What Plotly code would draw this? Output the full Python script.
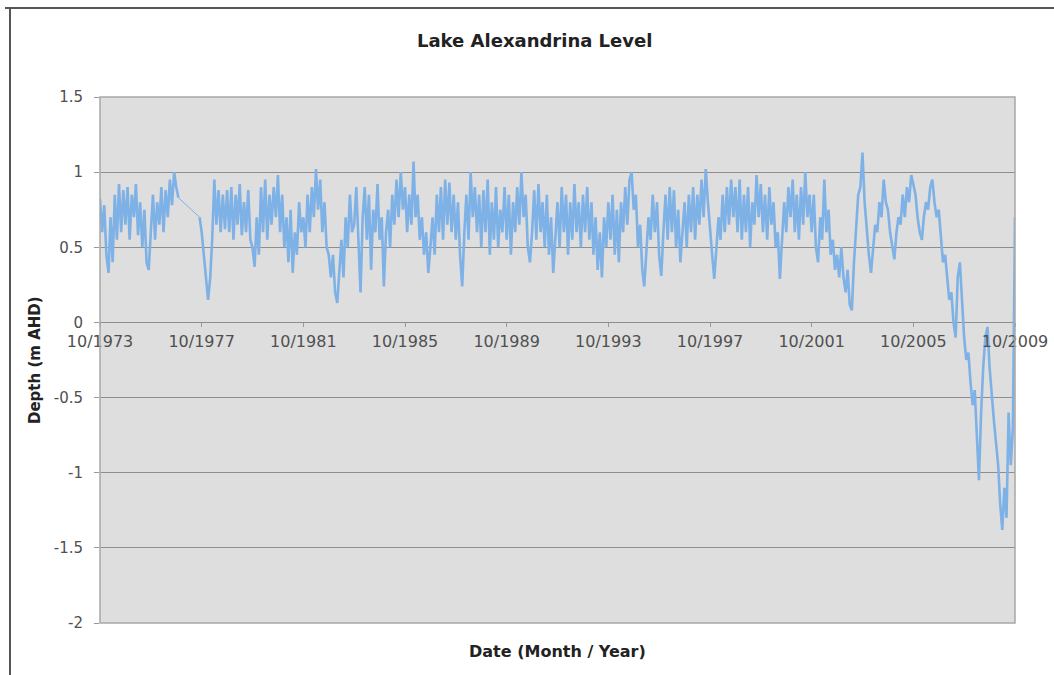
import pandas as pd
import plotly.graph_objects as go

# Monthly lake level readings (m AHD), Oct 1973 .. Oct 2009, one row per water year (Oct..Sep)
level_m = [
    0.82, 0.6, 0.78, 0.45, 0.33, 0.7, 0.4, 0.85, 0.55, 0.92, 0.6, 0.88,      # 1973-74
    0.65, 0.9, 0.55, 0.85, 0.7, 0.92, 0.58, 0.8, 0.5, 0.75, 0.4, 0.35,       # 1974-75
    0.6, 0.85, 0.55, 0.8, 0.65, 0.9, 0.6, 0.88, 0.7, 0.95, 0.78, 1.0,        # 1975-76
    0.9, 0.83, None, None, None, None, None, None, None, None, None, 0.7,    # 1976-77 (no data)
    0.6, 0.45, 0.3, 0.15, 0.3, 0.55, 0.95, 0.65, 0.88, 0.6, 0.85, 0.62,      # 1977-78
    0.88, 0.6, 0.9, 0.55, 0.85, 0.65, 0.92, 0.58, 0.8, 0.6, 0.88, 0.55,      # 1978-79
    0.5, 0.37, 0.7, 0.45, 0.9, 0.6, 0.95, 0.55, 0.85, 0.65, 0.9, 0.7,        # 1979-80
    0.98, 0.6, 0.85, 0.5, 0.7, 0.4, 0.75, 0.33, 0.6, 0.45, 0.8, 0.6,         # 1980-81
    0.7, 0.5, 0.85, 0.6, 0.9, 0.7, 1.02, 0.75, 0.95, 0.6, 0.8, 0.5,          # 1981-82
    0.45, 0.3, 0.45, 0.2, 0.13, 0.35, 0.55, 0.3, 0.7, 0.5, 0.85, 0.6,        # 1982-83
    0.65, 0.9, 0.5, 0.2, 0.7, 0.9, 0.55, 0.85, 0.35, 0.75, 0.6, 0.92,        # 1983-84
    0.55, 0.7, 0.24, 0.6, 0.75, 0.5, 0.85, 0.65, 0.95, 0.7, 1.0, 0.75,       # 1984-85
    0.9, 0.6, 0.85, 0.65, 1.07, 0.7, 0.85, 0.55, 0.7, 0.45, 0.6, 0.33,       # 1985-86
    0.5, 0.7, 0.45, 0.85, 0.6, 0.9, 0.55, 0.95, 0.65, 0.93, 0.6, 0.85,       # 1986-87
    0.55, 0.8, 0.45, 0.24, 0.6, 0.85, 0.55, 1.0, 0.7, 0.9, 0.6, 0.85,        # 1987-88
    0.5, 0.88, 0.6, 0.95, 0.45, 0.8, 0.55, 0.9, 0.5, 0.75, 0.6, 0.9,         # 1988-89
    0.55, 0.85, 0.45, 0.8, 0.6, 0.9, 0.65, 1.0, 0.7, 0.85, 0.5, 0.4,         # 1989-90
    0.6, 0.88, 0.55, 0.92, 0.6, 0.8, 0.5, 0.85, 0.45, 0.7, 0.33, 0.55,       # 1990-91
    0.8, 0.5, 0.9, 0.6, 0.85, 0.45, 0.8, 0.55, 0.92, 0.6, 0.8, 0.5,          # 1991-92
    0.85, 0.6, 0.9, 0.55, 0.8, 0.45, 0.7, 0.35, 0.6, 0.3, 0.7, 0.5,          # 1992-93
    0.8, 0.55, 0.85, 0.45, 0.75, 0.4, 0.8, 0.6, 0.9, 0.65, 0.95, 1.0,        # 1993-94
    0.75, 0.85, 0.5, 0.65, 0.35, 0.24, 0.5, 0.7, 0.55, 0.85, 0.6, 0.8,       # 1994-95
    0.45, 0.31, 0.6, 0.85, 0.55, 0.9, 0.6, 0.88, 0.5, 0.75, 0.4, 0.6,        # 1995-96
    0.8, 0.5, 0.85, 0.6, 0.9, 0.55, 0.85, 0.65, 0.95, 0.7, 1.02, 0.8,        # 1996-97
    0.6, 0.45, 0.29, 0.5, 0.7, 0.55, 0.85, 0.6, 0.9, 0.65, 0.95, 0.7,        # 1997-98
    0.9, 0.6, 0.95, 0.55, 0.85, 0.6, 0.9, 0.5, 0.8, 0.65, 0.98, 0.7,         # 1998-99
    0.92, 0.6, 0.85, 0.55, 0.9, 0.65, 0.8, 0.5, 0.6, 0.29, 0.55, 0.8,        # 1999-00
    0.6, 0.9, 0.7, 0.95, 0.6, 0.85, 0.55, 0.9, 0.65, 1.0, 0.7, 0.85,         # 2000-01
    0.6, 0.85, 0.5, 0.4, 0.7, 0.55, 0.95, 0.6, 0.75, 0.45, 0.55, 0.35,       # 2001-02
    0.45, 0.3, 0.5, 0.3, 0.2, 0.35, 0.12, 0.08, 0.4, 0.6, 0.85, 0.9,         # 2002-03
    1.13, 0.8, 0.6, 0.45, 0.33, 0.5, 0.65, 0.6, 0.8, 0.7, 0.95, 0.8,         # 2003-04
    0.75, 0.6, 0.5, 0.42, 0.6, 0.7, 0.65, 0.85, 0.7, 0.9, 0.8, 0.98,         # 2004-05
    0.92, 0.85, 0.7, 0.6, 0.55, 0.7, 0.8, 0.75, 0.9, 0.95, 0.8, 0.7,         # 2005-06
    0.75, 0.55, 0.4, 0.45, 0.27, 0.15, 0.2, 0.0, -0.1, 0.3, 0.4, 0.1,        # 2006-07
    -0.1, -0.25, -0.2, -0.4, -0.55, -0.45, -0.75, -1.05, -0.6, -0.3, -0.1, -0.03,  # 2007-08
    -0.3, -0.5, -0.65, -0.8, -0.95, -1.2, -1.38, -1.1, -1.3, -0.6, -0.95, -0.7,    # 2008-09
    0.7,                                                                      # Oct 2009
]
months = pd.date_range("1973-10-01", periods=len(level_m), freq="MS")

tick_dates = ["1973-10-01", "1977-10-01", "1981-10-01", "1985-10-01", "1989-10-01",
              "1993-10-01", "1997-10-01", "2001-10-01", "2005-10-01", "2009-10-01"]
tick_labels = ["10/1973", "10/1977", "10/1981", "10/1985", "10/1989",
               "10/1993", "10/1997", "10/2001", "10/2005", "10/2009"]
y_ticks = [-2, -1.5, -1, -0.5, 0, 0.5, 1, 1.5]
y_tick_labels = ["-2", "-1.5", "-1", "-0.5", "0", "0.5", "1", "1.5"]

FONT = "DejaVu Sans"
W, H = 1054, 675
PW, PH = W - 139, H - 149
LINE_COLOR = "#7eb1e6"

# endpoints of the data gap (joined by a thin straight segment, as in the source)
missing = [i for i, v in enumerate(level_m) if v is None]
gap_lo, gap_hi = missing[0] - 1, missing[-1] + 1

fig = go.Figure()
fig.add_trace(go.Scatter(
    x=[months[gap_lo], months[gap_hi]], y=[level_m[gap_lo], level_m[gap_hi]],
    mode="lines", line=dict(color=LINE_COLOR, width=1), showlegend=False,
))
fig.add_trace(go.Scatter(
    x=months, y=level_m, mode="lines", connectgaps=False,
    line=dict(color=LINE_COLOR, width=2.6), showlegend=False,
))

y_min, y_max = -2, 1.5
zero_pos = (0 - y_min) / (y_max - y_min)

fig.update_layout(
    width=W, height=H,
    margin=dict(l=100, r=39, t=97, b=52, autoexpand=False),
    paper_bgcolor="white",
    plot_bgcolor="#dedede",
    font=dict(family=FONT, color="#444444"),
    xaxis=dict(
        type="date",
        range=["1973-10-01", "2009-10-01"],
        tickvals=tick_dates, ticktext=tick_labels,
        tickfont=dict(size=16, color="#505050"),
        anchor="free", position=zero_pos,
        showgrid=False, zeroline=False,
        showline=False, automargin=False,
        ticks="outside", ticklen=4, tickcolor="#999999",
    ),
    yaxis=dict(
        range=[y_min, y_max],
        tickvals=y_ticks, ticktext=y_tick_labels,
        tickfont=dict(size=15, color="#505050"),
        showgrid=True, gridcolor="#8e8e8e", gridwidth=1,
        zeroline=False, showline=False, automargin=False,
        ticks="outside", ticklen=5, tickcolor="#999999",
        ticklabelstandoff=8,
    ),
    shapes=[
        dict(type="rect", xref="paper", yref="paper", x0=0, x1=1, y0=0, y1=1,
             line=dict(color="#a8a8a8", width=1.5), layer="above"),
        dict(type="line", xref="paper", yref="paper",
             x0=(5 - 100) / PW, x1=1 + 39 / PW,
             y0=1 + (97 - 8) / PH, y1=1 + (97 - 8) / PH,
             line=dict(color="#555555", width=2)),
        dict(type="line", xref="paper", yref="paper",
             x0=(10 - 100) / PW, x1=(10 - 100) / PW,
             y0=-52 / PH, y1=1 + (97 - 8) / PH,
             line=dict(color="#555555", width=2)),
    ],
    annotations=[
        dict(text="<b>Lake Alexandrina Level</b>", xref="paper", yref="paper",
             x=(534 - 100) / PW, y=1 + (97 - 41) / PH,
             showarrow=False, font=dict(size=18, color="#222222", family=FONT),
             xanchor="center", yanchor="middle"),
        dict(text="<b>Date (Month / Year)</b>", xref="paper", yref="paper",
             x=(557 - 100) / PW, y=-(651 - 623) / PH,
             showarrow=False, font=dict(size=16, color="#222222", family=FONT),
             xanchor="center", yanchor="middle"),
        dict(text="<b>Depth (m AHD)</b>", xref="paper", yref="paper",
             x=(35 - 100) / PW, y=(623 - 360) / PH,
             textangle=-90, showarrow=False,
             font=dict(size=15, color="#222222", family=FONT),
             xanchor="center", yanchor="middle"),
    ],
)

fig.write_html("out.html")
